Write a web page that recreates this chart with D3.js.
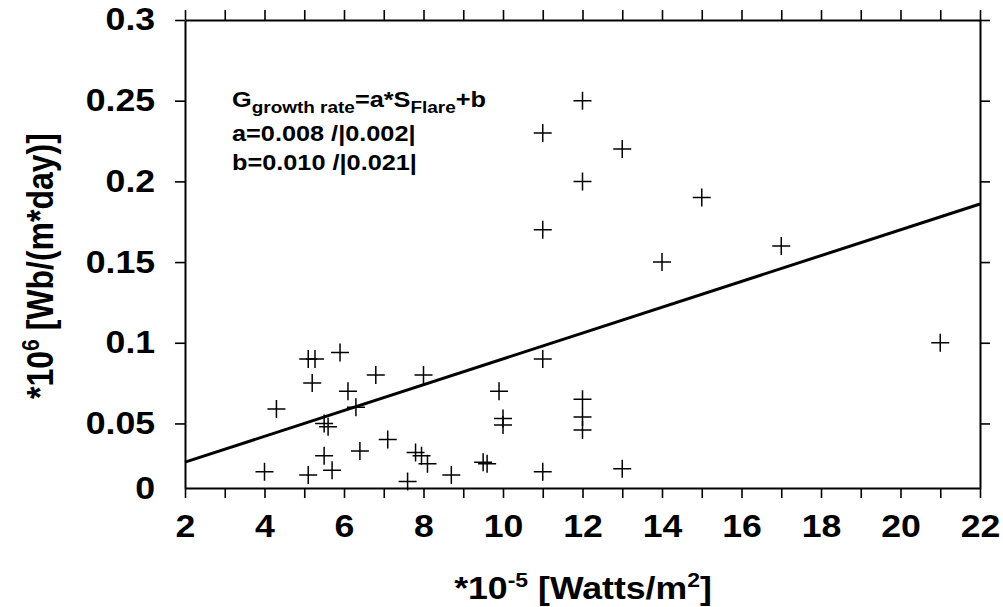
<!DOCTYPE html>
<html>
<head>
<meta charset="utf-8">
<script src="https://cdn.jsdelivr.net/npm/d3@7/dist/d3.min.js"></script>
<style>
body { margin: 0; background: #fff; }
text { font-family: Arial, "Liberation Sans", sans-serif; font-weight: bold; fill: #000; }
</style>
</head>
<body>
<div id="chart"></div>
<script>
// size of SVG
var w = 1003;
var h = 607;
// plot box, in pixels
var boxL = 185, boxR = 980, boxT = 20, boxB = 488;
// horizontal stretch of the text in the original picture
var sx = 1.15;

// flare size (x) and growth rate (y)
var flareX = [5.1, 5.27, 5.9, 5.2, 6.8, 6.1, 6.3, 4.3, 5.5, 5.6, 5.5, 6.4, 4.0, 5.1, 5.7, 7.1,
              8.0, 11, 9.9, 10, 10, 12, 12, 12, 7.8, 7.95, 8.1, 7.6, 8.7, 9.5, 9.6, 11,
              13, 21, 14, 12, 13, 12, 15, 17, 11, 11];
var growth = [0.090, 0.090, 0.094, 0.075, 0.080, 0.070, 0.060, 0.059, 0.050, 0.048, 0.030, 0.033, 0.020, 0.018, 0.021, 0.040,
              0.080, 0.090, 0.070, 0.053, 0.049, 0.065, 0.054, 0.046, 0.032, 0.030, 0.025, 0.014, 0.018, 0.026, 0.025, 0.020,
              0.022, 0.100, 0.150, 0.250, 0.220, 0.200, 0.190, 0.160, 0.230, 0.170];
// fit G = a*S + b
var fitA = 0.008;
var fitB = 0.010;
var fitX = [2, 22];

var xTicks = d3.range(2, 23, 1);
var yTicks = [0.05, 0.1, 0.15, 0.2, 0.25, 0.3];

var svg = d3.select("#chart")
	.append("svg")
	.attr("width", w)
	.attr("height", h)
	.attr("xmlns", "http://www.w3.org/2000/svg");

var x = d3.scaleLinear().domain([2, 22]).range([boxL, boxR]);
var y = d3.scaleLinear().domain([0.01, 0.3]).range([boxB, boxT]);

function styleAxis(g) {
	g.select(".domain").attr("stroke-width", 2);
	g.selectAll(".tick line").attr("stroke-width", 1.6);
	g.selectAll("text")
		.attr("font-size", 31)
		.attr("font-family", "Arial, 'Liberation Sans', sans-serif")
		.attr("transform", "scale(" + sx + ",1)");
}

// bottom axis, labels every 2
svg.append("g")
	.attr("transform", "translate(0," + boxB + ")")
	.call(d3.axisBottom(x).tickValues(xTicks).tickSize(10).tickSizeOuter(0).tickPadding(17)
		.tickFormat(function(d) { return d % 2 == 0 ? d : ""; }))
	.call(styleAxis);
// top axis
svg.append("g")
	.attr("transform", "translate(0," + boxT + ")")
	.call(d3.axisTop(x).tickValues(xTicks).tickSize(10).tickSizeOuter(0).tickFormat(""))
	.call(styleAxis);
// left axis
svg.append("g")
	.attr("transform", "translate(" + boxL + ",0)")
	.call(d3.axisLeft(y).tickValues(yTicks).tickSize(10).tickSizeOuter(0).tickPadding(16)
		.tickFormat(d3.format("")))
	.call(styleAxis);
// right axis
svg.append("g")
	.attr("transform", "translate(" + boxR + ",0)")
	.call(d3.axisRight(y).tickValues(yTicks).tickSize(10).tickSizeOuter(0).tickFormat(""))
	.call(styleAxis);

// the "0" sits on the bottom edge of the box
svg.append("text")
	.attr("transform", "translate(" + (boxL - 30) + "," + boxB + ") scale(" + sx + ",1)")
	.attr("text-anchor", "end")
	.attr("dy", "0.35em")
	.attr("font-size", 31)
	.text("0");

// fitted line
svg.append("path")
	.datum(fitX)
	.attr("fill", "none")
	.attr("stroke", "#000")
	.attr("stroke-width", 3)
	.attr("d", d3.line()
		.x(function(d) { return x(d); })
		.y(function(d) { return y(fitA * d + fitB); }));

// data points as plus signs
svg.selectAll(".pt")
	.data(d3.range(flareX.length))
	.enter().append("path")
	.attr("class", "pt")
	.attr("transform", function(i) { return "translate(" + x(flareX[i]) + "," + y(growth[i]) + ")"; })
	.attr("d", "M-9,0H9M0,-9V9")
	.attr("fill", "none")
	.attr("stroke", "#000")
	.attr("stroke-width", 1.5);

// formula box
var note = svg.append("g")
	.attr("transform", "translate(232,0) scale(" + sx + ",1)")
	.attr("font-size", 22);
var t1 = note.append("text").attr("y", 107);
t1.append("tspan").text("G");
t1.append("tspan").attr("font-size", 16.5).attr("dy", 6).text("growth rate");
t1.append("tspan").attr("dy", -6).text("=a*S");
t1.append("tspan").attr("font-size", 16.5).attr("dy", 6).text("Flare");
t1.append("tspan").attr("dy", -6).text("+b");
note.append("text").attr("y", 141).text("a=0.008 /|0.002|");
note.append("text").attr("y", 170).text("b=0.010 /|0.021|");

// x title
var xt = svg.append("text")
	.attr("transform", "translate(583,599) scale(" + sx + ",1)")
	.attr("text-anchor", "middle")
	.attr("font-size", 31);
xt.append("tspan").text("*10");
xt.append("tspan").attr("font-size", 20).attr("dy", -12).text("-5");
xt.append("tspan").attr("dy", 12).text(" [Watts/m");
xt.append("tspan").attr("font-size", 20).attr("dy", -12).text("2");
xt.append("tspan").attr("dy", 12).text("]");

// y title
var yt = svg.append("text")
	.attr("transform", "translate(53,266) scale(" + sx + ",1) rotate(-90)")
	.attr("text-anchor", "middle")
	.attr("font-size", 32);
yt.append("tspan").text("*10");
yt.append("tspan").attr("font-size", 21).attr("dy", -12).text("6");
yt.append("tspan").attr("dy", 12).text(" [Wb/(m*day)]");
</script>
</body>
</html>
